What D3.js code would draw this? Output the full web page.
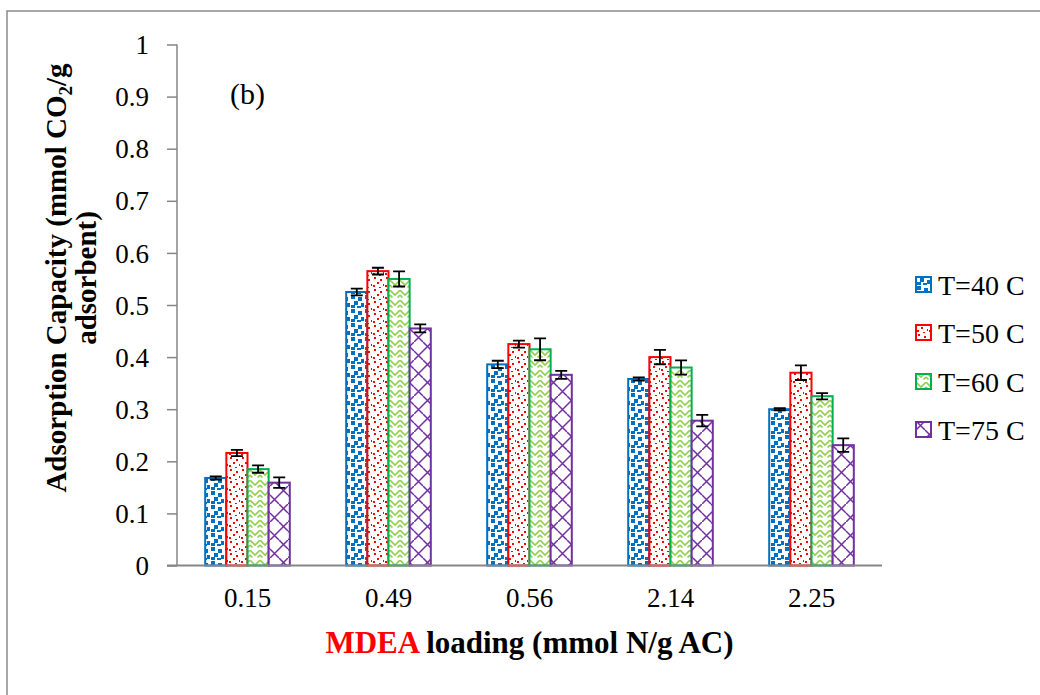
<!DOCTYPE html>
<html>
<head>
<meta charset="utf-8">
<script src="https://cdn.jsdelivr.net/npm/d3@7"></script>
<style>
  html, body { margin: 0; padding: 0; background: #ffffff; }
  svg { display: block; font-family: "Liberation Serif", "Times New Roman", serif; }
</style>
</head>
<body>
<script>
// MDEA loading categories (mmol N/g AC)
const categories = ["0.15", "0.49", "0.56", "2.14", "2.25"];
// Temperature series
const seriesNames = ["T=40 C", "T=50 C", "T=60 C", "T=75 C"];
// Adsorption capacity (mmol CO2/g adsorbent) per temperature
const t40 = [0.168, 0.525, 0.386, 0.358, 0.300];
const t50 = [0.216, 0.565, 0.425, 0.400, 0.370];
const t60 = [0.185, 0.550, 0.415, 0.380, 0.325];
const t75 = [0.159, 0.455, 0.366, 0.278, 0.231];
// Error bar half-widths
const e40 = [0.003, 0.0065, 0.007, 0.003, 0.002];
const e50 = [0.006, 0.0065, 0.0067, 0.0137, 0.014];
const e60 = [0.007, 0.0145, 0.021, 0.0137, 0.006];
const e75 = [0.010, 0.0077, 0.0077, 0.011, 0.013];
// Y axis ticks
const yTicks = [0, 0.1, 0.2, 0.3, 0.4, 0.5, 0.6, 0.7, 0.8, 0.9, 1];
const yTickLabels = ["0", "0.1", "0.2", "0.3", "0.4", "0.5", "0.6", "0.7", "0.8", "0.9", "1"];

const values = [t40, t50, t60, t75];
const errors = [e40, e50, e60, e75];
const strokeColors = ["#0070C0", "#FF0000", "#00B050", "#7030A0"];
const patternIds = ["pat-confetti-blue", "pat-dots-red", "pat-weave-green", "pat-diag-purple"];

const W = 1040, H = 695;
const svg = d3.select("body").append("svg").attr("width", W).attr("height", H);

// ---- fill patterns ----
const defs = svg.append("defs");

// large confetti (blue squares)
const pBlue = defs.append("pattern").attr("id", patternIds[0])
  .attr("patternUnits", "userSpaceOnUse").attr("width", 14).attr("height", 14);
pBlue.append("rect").attr("width", 14).attr("height", 14).attr("fill", "#fff");
[[1, 1], [8, 3], [4, 7], [11, 9], [1, 11], [7, 12]].forEach(([x, y]) => {
  pBlue.append("rect").attr("x", x).attr("y", y).attr("width", 4).attr("height", 4).attr("fill", "#0070C0");
});

// small confetti (red dots)
const pRed = defs.append("pattern").attr("id", patternIds[1])
  .attr("patternUnits", "userSpaceOnUse").attr("width", 12).attr("height", 12);
pRed.append("rect").attr("width", 12).attr("height", 12).attr("fill", "#fff");
[[2, 1], [8, 3], [5, 6], [11, 8], [1, 9], [7, 11]].forEach(([x, y]) => {
  pRed.append("rect").attr("x", x).attr("y", y).attr("width", 2).attr("height", 2).attr("fill", "#FF0000");
});

// weave / zigzag (light green)
const pGreen = defs.append("pattern").attr("id", patternIds[2])
  .attr("patternUnits", "userSpaceOnUse").attr("width", 10).attr("height", 10);
pGreen.append("rect").attr("width", 10).attr("height", 10).attr("fill", "#fff");
pGreen.append("path").attr("d", "M0,0 L5,5 L10,0 M0,5 L2.5,7.5 M10,5 L7.5,7.5")
  .attr("fill", "none").attr("stroke", "#92D050").attr("stroke-width", 1.6);

// wide diagonal trellis (purple)
const pPurple = defs.append("pattern").attr("id", patternIds[3])
  .attr("patternUnits", "userSpaceOnUse").attr("width", 18).attr("height", 18);
pPurple.append("rect").attr("width", 18).attr("height", 18).attr("fill", "#fff");
pPurple.append("path").attr("d", "M-2,20 L20,-2 M0,9 L9,18 M9,0 L18,9")
  .attr("fill", "none").attr("stroke", "#7030A0").attr("stroke-width", 1.5);

// ---- outer frame ----
svg.append("rect").attr("x", 7).attr("y", 11).attr("width", 1200).attr("height", 900)
  .attr("fill", "none").attr("stroke", "#8a8a8a").attr("stroke-width", 1.5);

// ---- scales ----
const plotLeft = 177, plotRight = 882, plotTop = 44.5, plotBottom = 565.5;
const x = d3.scaleBand().domain(categories).range([plotLeft, plotRight]).paddingInner(0).paddingOuter(0);
const groupW = x.bandwidth() * 0.6;
const xs = d3.scaleBand().domain(seriesNames).range([-groupW / 2, groupW / 2]).padding(0);
const y = d3.scaleLinear().domain([0, 1]).range([plotBottom, plotTop]);

const axisColor = "#868686";

// ---- y axis ----
const yAxis = d3.axisLeft(y).tickValues(yTicks)
  .tickFormat((d, i) => yTickLabels[i]).tickSize(10).tickPadding(18);
const gy = svg.append("g").attr("transform", `translate(${plotLeft},0)`).call(yAxis);
gy.select(".domain").attr("stroke", axisColor).attr("stroke-width", 1.5).attr("d", `M0,${plotTop}V${plotBottom}`);
gy.selectAll(".tick line").attr("stroke", axisColor).attr("stroke-width", 1.5);
gy.selectAll(".tick text").attr("font-size", 27).attr("fill", "#000")
  .attr("font-family", "Liberation Serif").attr("dy", "0.34em");

// ---- bars ----
const barsG = svg.append("g");
seriesNames.forEach((s, si) => {
  const g = barsG.append("g");
  g.selectAll("rect").data(categories).join("rect")
    .attr("x", c => x(c) + x.bandwidth() / 2 + xs(s))
    .attr("y", (c, i) => y(values[si][i]))
    .attr("width", xs.bandwidth())
    .attr("height", (c, i) => y(0) - y(values[si][i]))
    .attr("fill", `url(#${patternIds[si]})`)
    .attr("stroke", strokeColors[si]).attr("stroke-width", 2);
});

// ---- x axis ----
const xAxis = d3.axisBottom(x).tickSize(0).tickPadding(22);
const gx = svg.append("g").attr("transform", `translate(0,${plotBottom})`).call(xAxis);
gx.select(".domain").attr("stroke", axisColor).attr("stroke-width", 2).attr("d", `M${plotLeft - 10},0H${plotRight}`);
gx.selectAll(".tick text").attr("font-size", 27).attr("fill", "#000").attr("font-family", "Liberation Serif");

// ---- error bars ----
const errG = svg.append("g").attr("stroke", "#000").attr("stroke-width", 1.8).attr("fill", "none");
seriesNames.forEach((s, si) => {
  categories.forEach((c, i) => {
    const cx = x(c) + x.bandwidth() / 2 + xs(s) + xs.bandwidth() / 2;
    const v = values[si][i], e = errors[si][i];
    const y1 = y(v + e), y2 = y(v - e);
    errG.append("path").attr("d", `M${cx},${y1}V${y2}M${cx - 6},${y1}H${cx + 6}M${cx - 6},${y2}H${cx + 6}`);
  });
});

// ---- panel label ----
svg.append("text").attr("x", 230).attr("y", 104).attr("font-size", 30).text("(b)");

// ---- axis titles ----
const xTitle = svg.append("text").attr("x", (plotLeft + plotRight) / 2).attr("y", 653)
  .attr("text-anchor", "middle").attr("font-size", 31).attr("font-weight", "bold");
xTitle.append("tspan").attr("fill", "#FF0000").text("MDEA");
xTitle.append("tspan").attr("fill", "#000").text(" loading (mmol N/g AC)");

const yTitle = svg.append("g").attr("transform", "translate(0,278) rotate(-90)");
const yl1 = yTitle.append("text").attr("x", 0).attr("y", 66).attr("text-anchor", "middle")
  .attr("font-size", 29).attr("font-weight", "bold");
yl1.append("tspan").text("Adsorption Capacity (mmol CO");
yl1.append("tspan").attr("font-size", 19).attr("dy", 6).text("2");
yl1.append("tspan").attr("dy", -6).text("/g");
yTitle.append("text").attr("x", 0).attr("y", 96).attr("text-anchor", "middle")
  .attr("font-size", 29).attr("font-weight", "bold").text("adsorbent)");

// ---- legend ----
const legend = svg.append("g");
const legendY = [285, 333, 382, 430];
seriesNames.forEach((s, si) => {
  const g = legend.append("g").attr("transform", `translate(916,${legendY[si]})`);
  g.append("rect").attr("x", 0).attr("y", -8).attr("width", 15).attr("height", 15)
    .attr("fill", `url(#${patternIds[si]})`).attr("stroke", strokeColors[si]).attr("stroke-width", 2);
  g.append("text").attr("x", 22).attr("y", 10).attr("font-size", 28).attr("fill", "#000").text(s);
});
</script>
</body>
</html>
